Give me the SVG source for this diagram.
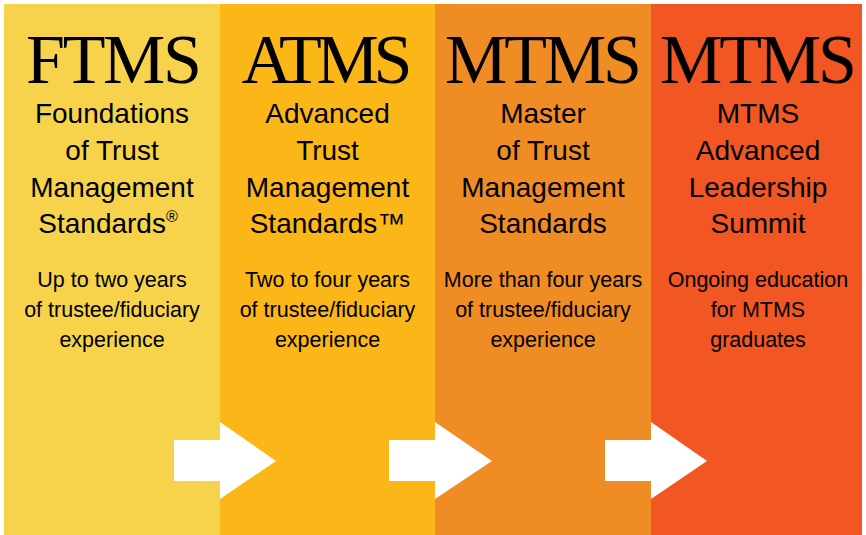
<svg xmlns="http://www.w3.org/2000/svg" width="866" height="535" viewBox="0 0 866 535">
  <style>
    .title { font-family: "Liberation Serif", "Times New Roman", serif; font-size: 70px; fill: #000; text-anchor: middle; }
    .sub { font-family: "Liberation Sans", Arial, sans-serif; font-size: 28px; fill: #000; text-anchor: middle; }
    .desc { font-family: "Liberation Sans", Arial, sans-serif; font-size: 21.5px; fill: #000; text-anchor: middle; }
    .arrow { fill: #ffffff; }
  </style>
  <rect x="0" y="0" width="866" height="535" fill="#ffffff"/>
  <g id="ftms">
    <rect x="4" y="4" width="216" height="531" fill="#F6D34B"/>
    <text class="title" x="114" y="83" textLength="176" lengthAdjust="spacing">FTMS</text>
    <text class="sub" x="112" y="123">Foundations</text>
    <text class="sub" x="112" y="160">of Trust</text>
    <text class="sub" x="112" y="197">Management</text>
    <text class="sub" x="108" y="233">Standards<tspan font-size="16" dy="-11">®</tspan></text>
    <text class="desc" x="112" y="287">Up to two years</text>
    <text class="desc" x="112" y="317">of trustee/fiduciary</text>
    <text class="desc" x="112" y="347">experience</text>
  </g>
  <g id="atms">
    <rect x="220" y="4" width="215" height="531" fill="#FBB717"/>
    <text class="title" x="327" y="83" textLength="171" lengthAdjust="spacing">ATMS</text>
    <text class="sub" x="327.5" y="123">Advanced</text>
    <text class="sub" x="327.5" y="160">Trust</text>
    <text class="sub" x="327.5" y="197">Management</text>
    <text class="sub" x="327.5" y="233">Standards™</text>
    <text class="desc" x="327.5" y="287">Two to four years</text>
    <text class="desc" x="327.5" y="317">of trustee/fiduciary</text>
    <text class="desc" x="327.5" y="347">experience</text>
  </g>
  <g id="mtms">
    <rect x="435" y="4" width="216" height="531" fill="#F08C24"/>
    <text class="title" x="543.5" y="83" textLength="197" lengthAdjust="spacing">MTMS</text>
    <text class="sub" x="543" y="123">Master</text>
    <text class="sub" x="543" y="160">of Trust</text>
    <text class="sub" x="543" y="197">Management</text>
    <text class="sub" x="543" y="233">Standards</text>
    <text class="desc" x="543" y="287">More than four years</text>
    <text class="desc" x="543" y="317">of trustee/fiduciary</text>
    <text class="desc" x="543" y="347">experience</text>
  </g>
  <g id="summit">
    <rect x="651" y="4" width="211" height="531" fill="#F15623"/>
    <text class="title" x="758.5" y="83" textLength="197" lengthAdjust="spacing">MTMS</text>
    <text class="sub" x="758" y="123">MTMS</text>
    <text class="sub" x="758" y="160">Advanced</text>
    <text class="sub" x="758" y="197">Leadership</text>
    <text class="sub" x="758" y="233">Summit</text>
    <text class="desc" x="758" y="287">Ongoing education</text>
    <text class="desc" x="758" y="317">for MTMS</text>
    <text class="desc" x="758" y="347">graduates</text>
  </g>
  <g id="connectors">
    <polygon class="arrow" points="174,440 220,440 220,422 276,461 220,499 220,481 174,481"/>
    <polygon class="arrow" points="389,440 435,440 435,422 492,461 435,499 435,481 389,481"/>
    <polygon class="arrow" points="605,440 651,440 651,422 707,461 651,499 651,481 605,481"/>
  </g>
</svg>
